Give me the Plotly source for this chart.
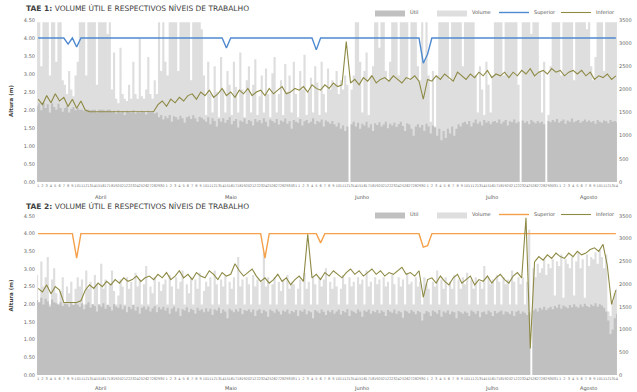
import plotly.graph_objects as go

# Calendar shown on both x axes
MONTHS = ["Abril", "Maio", "Junho", "Julho", "Agosto"]
MONTH_DAYS = [30, 31, 30, 31, 14]

# ---------------- TAE 1 ----------------
# Volume (dam3), two readings per day
TAE1_VOLUME = (
    [3450, 3450, 2500, 3450, 3450, 3450, 2300, 3450, 3450, 2600, 3450, 3450, 2200]
    + [2100, 1900, 2400, 2000, 1850, 2300, 2600]
    + [3450, 3450, 3450, 2300, 3450, 3450, 3450, 3450, 2100, 3450, 3450, 3450, 3450, 3200, 3450]
    + [2000, 2800, 1800, 1700, 2900, 1900, 1800, 1750, 2100, 1800, 2600, 1900, 1800, 3100, 1850,
       1800, 2000, 2700, 1900, 1800, 2200, 1900]
    + [3450, 2400, 3450, 2600, 2300]
    + [3450, 3450, 3450, 3450, 2400, 3450, 3450, 3450, 3450, 3450, 2200, 3450, 3450, 3450, 3450, 3300]
    + [2300, 1450, 2600, 1900, 1500, 2500, 1950, 1400, 2700, 2000,
       1500, 2400, 2100, 1450, 2600, 2050, 1500, 2800, 2000, 1400,
       2200, 2500, 1500, 2100, 2650, 1450, 1850, 2300, 1500, 2450,
       1900, 1400, 2350, 2700, 1500, 1900, 2200, 1450, 2550, 1950,
       2300, 1500, 2600, 1900, 1400, 2400, 2000, 2750, 1450, 1950,
       2250, 1500, 2500, 2150, 1450, 2600, 1900, 1500, 2450, 2000, 2200]
    + [2100, 2400, 1900, 2200, 2000, 2300, 2100, 0]
    + [2000, 2300, 3450, 3450]
    + [2600, 1500, 2400, 2800, 1450, 2300, 2500]
    + [3450, 3450, 2900, 3450, 3450]
    + [2400, 2200, 2600]
    + [3450, 3450, 3450, 2300, 3450, 3450, 3450, 3450, 2200, 3450, 3450, 3450]
    + [2500, 2200, 3450, 2600]
    + [3450, 2300]
    + [1300, 2400, 1200, 2300, 3450]
    + [3450, 3450, 3450, 3450, 2200, 3450, 3450, 3450, 3450, 3450, 2500, 3450, 3450, 3450, 3450, 3450]
    + [2300, 1500, 2500, 2000, 1450, 2600, 2100, 1500, 2300]
    + [3450, 3450, 3450, 3450, 2300, 3450, 3450, 3450, 3450, 3450, 3450, 2100, 0,
       3450, 3450, 3450, 3450, 3200, 3450, 3450, 3450]
    + [2400, 1500, 2600, 0, 1450, 2500]
    + [3450, 3450, 3450, 3450, 2300, 3450, 3450, 3450, 3450, 3450, 2200, 3450, 3450, 3450, 3450, 3450, 3300, 3450]
    + [2500, 2200, 2700]
    + [3450, 3450, 3450, 2400, 3450, 3450, 3450, 3450, 3450, 3450]
)

# Volume útil (dam3), two readings per day
TAE1_UTIL = (
    [1650, 1700, 1550, 1720, 1600, 1680, 1500, 1700, 1620, 1560, 1690, 1600, 1520]
    + [1600, 1650, 1500, 1580, 1620, 1550, 1600]
    + [1560, 1560, 1540, 1560, 1560, 1550, 1560, 1560, 1500, 1560, 1560, 1560, 1540, 1560, 1560]
    + [1520, 1540, 1480, 1550, 1500, 1530, 1450, 1540, 1520, 1500, 1550, 1480, 1530, 1500, 1540,
       1520, 1460, 1540, 1510, 1530, 1480, 1500]
    + [1400, 1450, 1350, 1420, 1380, 1450, 1300, 1420, 1400, 1350, 1430, 1380, 1280, 1400, 1420,
       1360, 1440, 1380, 1300, 1410, 1390]
    + [1350, 1300, 1400, 1250, 1380, 1320, 1200, 1360, 1300, 1380,
       1280, 1340, 1400, 1250, 1320, 1360, 1180, 1330, 1300, 1370,
       1260, 1340, 1310, 1220, 1360, 1300, 1340, 1270, 1380, 1300,
       1200, 1350, 1320, 1280, 1360, 1240, 1330, 1300, 1370, 1260,
       1320, 1150, 1340, 1300, 1280, 1360, 1220, 1310, 1340, 1270,
       1300, 1380, 1250, 1320, 1290, 1350, 1200, 1330, 1300, 1260, 1320]
    + [1250, 1200, 1280, 1150, 1220, 1100, 1200, 0]
    + [1250, 1300, 1200, 1280, 1150, 1260, 1220, 1300, 1180, 1250,
       1100, 1270, 1230, 1290, 1200, 1240, 1300, 1160, 1260, 1220,
       1280, 1190, 1250, 1300, 1210, 1100, 1270, 1240, 1150, 1000,
       1200, 1250, 1180, 1230, 1100, 1260, 1200, 1050, 1220, 1180, 1000, 1150]
    + [900, 1100, 950, 1150, 1050, 1200, 1000, 1150, 1250, 1200, 1280]
    + [1300, 1250, 1320, 1200, 1280, 1350, 1260, 1300, 1220, 1340, 1280, 1310, 1250, 1300]
    + [1320, 1280, 1350, 1260, 1300, 1340, 1220, 1310, 1290, 1350, 1270, 1300, 0,
       1330, 1280, 1310, 1250, 1340, 1300, 1270, 1320]
    + [1280, 1300, 1250, 0, 1320, 1290]
    + [1340, 1300, 1360, 1280, 1320, 1350, 1260, 1330, 1300, 1370, 1290, 1320, 1340, 1280, 1310, 1350, 1300, 1330]
    + [1290, 1320, 1260, 1340, 1300, 1280, 1330, 1310, 1270, 1340, 1300, 1320, 1290]
)

# Daily working level (m)
TAE1_INFERIOR = (
    [2.30, 2.15, 2.40, 2.20, 2.45, 2.25]
    + [2.35, 2.10, 2.30, 2.05, 2.25, 2.00, 1.95]
    + [1.95, 1.95, 1.94, 1.95, 1.95, 1.95, 1.94, 1.95, 1.95, 1.95, 1.95, 1.94, 1.95, 1.95, 1.96]
    + [2.15, 2.25, 2.10, 2.30, 2.20, 2.35, 2.25, 2.40]
    + [2.45, 2.30, 2.50, 2.40, 2.55, 2.35, 2.45, 2.60, 2.40, 2.50, 2.35, 2.55, 2.45, 2.60, 2.40,
       2.50, 2.55, 2.40, 2.60, 2.45, 2.55, 2.65, 2.45, 2.50, 2.60]
    + [2.55, 2.65, 2.50, 2.70, 2.60, 2.55, 2.70, 2.60, 2.75, 2.65, 2.70]
    + [3.90]
    + [2.75, 2.85, 2.70, 2.90, 2.80, 2.95, 2.75, 2.85, 2.90, 2.80, 2.95, 2.85, 2.75, 2.90, 2.85, 2.95, 2.80]
    + [2.30, 2.85]
    + [2.80, 2.95, 2.85, 3.00, 2.90, 2.80, 3.05, 2.95, 2.85, 3.00, 2.90, 3.05, 2.95, 3.10, 2.90,
       3.00, 2.95, 3.05, 2.90]
    + [3.05, 2.95, 3.10, 3.00, 3.15, 2.95, 3.05, 3.10, 3.00, 3.15, 3.05, 3.10, 2.95, 3.05, 3.10]
    + [3.00, 3.10, 2.95, 3.05, 2.85, 2.95, 2.90, 3.00, 2.85, 2.95]
)

# Upper working level (m): constant level with a few daily drops
TAE1_SUPERIOR_LEVEL = 4.00
TAE1_SUPERIOR_DROPS = {7: 3.83, 9: 3.75, 44: 3.72, 65: 3.67, 90: 3.30, 91: 3.55}

# ---------------- TAE 2 ----------------
TAE2_VOLUME = (
    [2200, 1550, 2500, 1950, 2150, 2600, 1550, 2100, 2350, 1800, 1550, 1850, 2150, 1550, 1950, 1800, 2050, 1550, 1900, 2150]
    + [1950, 2100, 1550, 2300, 1900, 2050, 1550, 2200, 2000, 1550, 2450, 1900, 2100, 1550, 2000, 2300, 1850, 1550, 1750, 2100]
    + [1950, 1550, 2150, 1900, 2050, 1550, 2250, 1950, 2100, 1550, 2000, 2400, 1550, 1950, 1800, 2150, 1550, 2050, 1850, 2000]
    + [2100, 1550, 2200, 1950, 1550, 2150, 1900, 2050, 2300, 1550, 2000, 1800, 2150, 1550, 2100, 1900, 2250, 1550, 1850, 2050]
    + [1950, 2150, 1550, 2300, 2000, 1550, 2100, 1950, 2200, 1550, 2050, 1900, 2150, 1550, 2600, 1950, 2100, 1550, 2150, 2000]
    + [1550, 2200, 1950, 2100, 1550, 2050, 2700, 1950, 2150, 1550, 2000, 2150, 1550, 2050, 1850, 2100, 1550, 2200, 1900, 2050]
    + [2000, 1550, 1900, 2100, 1550, 2250, 1900, 2050, 1550, 2150, 2000, 1550, 2150, 1950, 2100, 2350, 1550, 2050, 1900, 2150]
    + [1950, 1550, 1900, 2200, 2000, 1550, 2150, 1950, 2050, 1550, 2150, 2000, 2100, 1550, 2300, 1950, 2050, 1550, 2150, 2000]
    + [2100, 1550, 2150, 1950, 2050, 1550, 2200, 2000, 1550, 2150, 1950, 2100, 1550, 2250, 2000, 2050, 1550, 2150, 1950, 2050]
    + [1550, 2150, 2000, 1900, 1550, 2050, 1950, 2300, 1550, 2100, 1900, 2150, 1550, 2050, 1900, 2200, 1550, 2100, 1900, 2150]
    + [2000, 2250, 1550, 2100, 1900, 2150, 1550, 2050, 1900, 2400, 1550, 2150, 2000, 2100, 1550, 2200, 2050, 1550, 2150, 2000]
    + [2100, 1550, 2300, 2050, 1550, 2150, 2000, 2150, 1550, 2050, 3200, 0, 2350, 2150, 2450, 2250, 2350, 2550, 2200, 2450]
    + [2350, 2550, 1750, 2500, 2400, 2650, 1700, 2550, 2450, 2350, 2600, 1750, 2500, 2700, 2350, 2550, 1700, 2650, 2400, 2600]
    + [2550, 2700, 2450, 2750, 2600, 2350, 2650, 1400, 1300, 1600, 1800, 1900]
)

TAE2_UTIL = (
    [1650, 1600, 1700, 1550, 1680, 1620, 1500, 1660, 1600, 1580, 1550, 1600, 1520, 1580, 1560, 1500, 1590, 1540, 1600, 1550]
    + [1500, 1580, 1450, 1550, 1600, 1480, 1560, 1520, 1400, 1550, 1500, 1580, 1460, 1540, 1500, 1420, 1560, 1510, 1480, 1550]
    + [1450, 1520, 1380, 1500, 1460, 1540, 1420, 1500, 1350, 1480, 1510, 1440, 1500, 1400, 1470, 1520, 1380, 1490, 1450, 1500]
    + [1420, 1480, 1350, 1460, 1500, 1400, 1470, 1300, 1450, 1420, 1490, 1380, 1460, 1430, 1350, 1480, 1420, 1450, 1380, 1470]
    + [1400, 1460, 1320, 1450, 1420, 1480, 1360, 1440, 1400, 1250, 1460, 1420, 1380, 1450, 1400, 1470, 1340, 1430, 1410, 1450]
    + [1380, 1440, 1300, 1420, 1450, 1360, 1430, 1400, 1280, 1440, 1410, 1370, 1450, 1400, 1330, 1420, 1390, 1440, 1350, 1410]
    + [1380, 1430, 1300, 1420, 1390, 1450, 1340, 1410, 1380, 1250, 1430, 1400, 1360, 1440, 1390, 1320, 1420, 1380, 1430, 1350]
    + [1400, 1440, 1330, 1410, 1380, 1450, 1300, 1420, 1390, 1360, 1440, 1400, 1280, 1420, 1390, 1440, 1350, 1410, 1380, 1430]
    + [1360, 1420, 1390, 1300, 1430, 1400, 1370, 1440, 1350, 1410, 1380, 1260, 1420, 1400, 1360, 1430, 1390, 1340, 1410, 1380]
    + [1200, 1350, 1410, 1380, 1300, 1420, 1390, 1350, 1430, 1280, 1400, 1370, 1420, 1340, 1400, 1380, 1250, 1410, 1380, 1350]
    + [1400, 1370, 1300, 1420, 1390, 1350, 1410, 1270, 1380, 1400, 1340, 1420, 1380, 1300, 1410, 1360, 1390, 1420, 1330, 1400]
    + [1380, 1340, 1410, 1300, 1390, 1420, 1350, 1400, 1370, 1320, 1380, 0, 1420, 1460, 1400, 1480, 1440, 1500, 1430, 1470]
    + [1500, 1450, 1520, 1480, 1550, 1460, 1530, 1500, 1470, 1540, 1490, 1560, 1510, 1480, 1550, 1500, 1570, 1520, 1490, 1550]
    + [1520, 1580, 1500, 1560, 1530, 1480, 1400, 1200, 900, 1000, 1250, 1350]
)

TAE2_INFERIOR = (
    [2.45, 2.35, 2.55, 2.30, 2.50, 2.40]
    + [2.05, 2.05, 2.05, 2.05, 2.10]
    + [2.40, 2.55, 2.45, 2.60, 2.50, 2.65, 2.55, 2.70, 2.60, 2.75, 2.65, 2.70, 2.80, 2.65, 2.75]
    + [2.80, 2.70, 2.85, 2.75, 2.90, 2.70, 2.80, 2.95, 2.75, 2.85, 2.70, 2.90, 2.80, 2.75, 2.95,
       2.85, 2.70, 2.90, 2.80, 2.85, 3.15, 2.95, 2.80, 2.90, 3.00]
    + [2.80, 2.65, 2.75, 2.60, 2.70, 2.85, 2.65, 2.75, 2.55, 2.70, 2.80, 2.65]
    + [3.98]
    + [2.75, 2.85, 2.70, 2.90, 2.80, 2.95, 2.85, 2.75, 2.90, 3.00, 2.85, 2.95, 2.80, 2.90, 3.00,
       2.85, 2.95, 2.80, 2.90, 2.85, 2.95, 3.05, 2.85, 2.90, 2.80, 2.95]
    + [2.20, 2.70]
    + [2.75, 2.60, 2.80, 2.65, 2.55, 2.75, 2.85, 2.60, 2.70, 2.80, 2.55, 2.70, 2.65, 2.80, 2.60,
       2.75, 2.85, 2.70, 2.60, 2.80, 2.90, 2.75]
    + [4.45, 0.75]
    + [3.20, 3.35, 3.25, 3.40, 3.30, 3.45, 3.35, 3.30, 3.45, 3.35, 3.50, 3.40, 3.45, 3.55]
    + [3.60, 3.50, 3.70, 3.10, 2.00, 2.40]
)

TAE2_SUPERIOR_LEVEL = 4.00
TAE2_SUPERIOR_DROPS = {9: 3.31, 53: 3.31, 66: 3.74, 90: 3.62, 91: 3.66}

# ---------------- styling ----------------
FONT = "DejaVu Sans"
C_UTIL = "#c0c0c0"
C_VOLUME = "#dedede"
C_INFERIOR = "#8e8a45"
C_SUP1 = "#4f8ad0"
C_SUP2 = "#f5a04a"

N_DAYS = sum(MONTH_DAYS)


def spread(values):
    """Readings evenly spread across the displayed period (x in days)."""
    n = len(values)
    return [(i + 0.5) * N_DAYS / n for i in range(n)]


def superior(level, drops):
    return [drops.get(d, level) for d in range(N_DAYS)]


tick_vals, tick_text = [], []
month_mid = []
start = 0
for name, nd in zip(MONTHS, MONTH_DAYS):
    for k in range(nd):
        tick_vals.append(start + k + 0.5)
        tick_text.append(str(k + 1))
    month_mid.append(start + nd / 2)
    start += nd

fig = go.Figure()

panels = [
    dict(xa="x", ya_area="y", ya_line="y2", legend="legend",
         vol=TAE1_VOLUME, util=TAE1_UTIL, inf=TAE1_INFERIOR,
         sup=superior(TAE1_SUPERIOR_LEVEL, TAE1_SUPERIOR_DROPS), c_sup=C_SUP1),
    dict(xa="x2", ya_area="y3", ya_line="y4", legend="legend2",
         vol=TAE2_VOLUME, util=TAE2_UTIL, inf=TAE2_INFERIOR,
         sup=superior(TAE2_SUPERIOR_LEVEL, TAE2_SUPERIOR_DROPS), c_sup=C_SUP2),
]

for p in panels:
    fig.add_trace(go.Scatter(
        x=spread(p["vol"]), y=p["vol"], name="Volume", mode="lines",
        line=dict(width=0, shape="hvh", color=C_VOLUME), fill="tozeroy", fillcolor=C_VOLUME,
        xaxis=p["xa"], yaxis=p["ya_area"], legend=p["legend"], legendrank=2))
    fig.add_trace(go.Scatter(
        x=spread(p["util"]), y=p["util"], name="Útil", mode="lines",
        line=dict(width=0, shape="hvh", color=C_UTIL), fill="tozeroy", fillcolor=C_UTIL,
        xaxis=p["xa"], yaxis=p["ya_area"], legend=p["legend"], legendrank=1))
    fig.add_trace(go.Scatter(
        x=spread(p["sup"]), y=p["sup"], name="Superior", mode="lines",
        line=dict(width=1.4, color=p["c_sup"]),
        xaxis=p["xa"], yaxis=p["ya_line"], legend=p["legend"], legendrank=3))
    fig.add_trace(go.Scatter(
        x=spread(p["inf"]), y=p["inf"], name="Inferior", mode="lines",
        line=dict(width=1.1, color=C_INFERIOR),
        xaxis=p["xa"], yaxis=p["ya_line"], legend=p["legend"], legendrank=4))

W, H = 637, 392
X_DOM = [36 / W, 618 / W]
TOP_DOM = [(H - 182) / H, (H - 20) / H]
BOT_DOM = [(H - 375) / H, (H - 216) / H]

tick_font = dict(family=FONT, size=5, color="#666666")
xaxis_common = dict(domain=X_DOM, range=[0, N_DAYS], tickmode="array", tickvals=tick_vals,
                    ticktext=tick_text, tickangle=0, tickfont=dict(family=FONT, size=3.6, color="#777777"),
                    showgrid=False, zeroline=False, showline=False, ticks="", fixedrange=True)
area_axis = dict(range=[0, 3500], dtick=500, side="right", showgrid=False, zeroline=False,
                 tickfont=tick_font, ticks="")
line_axis = dict(range=[0, 4.5], dtick=0.5, tickformat=".2f", side="left", showgrid=False,
                 zeroline=False, tickfont=tick_font, ticks="",
                 title=dict(text="<b>Altura (m)</b>", font=dict(family=FONT, size=5.5, color="#444444"),
                            standoff=9))

fig.update_layout(
    width=W, height=H, margin=dict(l=0, r=0, t=0, b=0, autoexpand=False),
    paper_bgcolor="white", plot_bgcolor="white",
    font=dict(family=FONT),
    xaxis=dict(anchor="y", **xaxis_common),
    xaxis2=dict(anchor="y3", **xaxis_common),
    yaxis=dict(domain=TOP_DOM, anchor="x", **area_axis),
    yaxis2=dict(domain=TOP_DOM, anchor="x", overlaying="y", **line_axis),
    yaxis3=dict(domain=BOT_DOM, anchor="x2", **area_axis),
    yaxis4=dict(domain=BOT_DOM, anchor="x2", overlaying="y3", **line_axis),
)

legend_common = dict(orientation="h", xanchor="left", yanchor="top", itemwidth=30,
                     entrywidth=17, entrywidthmode="pixels", bgcolor="rgba(0,0,0,0)",
                     font=dict(family=FONT, size=5, color="#555555"), traceorder="normal")
fig.update_layout(
    legend=dict(x=370 / W, y=1 + 2 / H, **legend_common),
    legend2=dict(x=370 / W, y=1 - 200 / H, **legend_common),
)

titles = [
    ("<b>TAE 1:</b> VOLUME ÚTIL E RESPECTIVOS NÍVEIS DE TRABALHO", 1 - 8 / H),
    ("<b>TAE 2:</b> VOLUME ÚTIL E RESPECTIVOS NÍVEIS DE TRABALHO", 1 - 206 / H),
]
for text, yy in titles:
    fig.add_annotation(text=text, xref="paper", yref="paper", x=24 / W, y=yy,
                       xanchor="left", yanchor="middle", showarrow=False,
                       font=dict(family=FONT, size=7.5, color="#404040"))

# Month names under the day numbers of each panel
for xa, yy in (("x", 1 - 197 / H), ("x2", 1 - 388 / H)):
    for name, mid in zip(MONTHS, month_mid):
        fig.add_annotation(text=name, xref=xa, yref="paper", x=mid, y=yy,
                           xanchor="center", yanchor="middle", showarrow=False,
                           font=dict(family=FONT, size=5, color="#555555"))

fig.write_html("out.html")
